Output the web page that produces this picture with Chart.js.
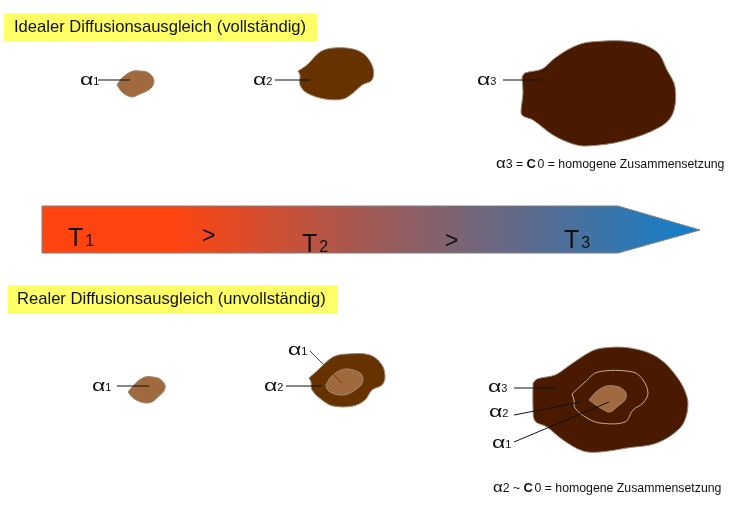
<!DOCTYPE html>
<html>
<head>
<meta charset="utf-8">
<style>
  html, body { margin: 0; background: #fff; }
  canvas { display: block; }
</style>
<script src="https://cdn.jsdelivr.net/npm/chart.js@4"></script>
</head>
<body>
<canvas id="diagram" width="734" height="515"></canvas>
<script>
// outlines, in picture units (x, y)
const boxTop = [[4,13],[317,13],[317,41],[4,41],[4,13]];
const boxBottom = [[8,285],[338,285],[338,314],[8,314],[8,285]];
const arrow = [[42,206],[618,206],[700,230],[618,253],[42,253],[42,206]];

const topA1 = [[117,85],[121,79],[127,74],[133,71],[140,71],[147,72],[152,76],[154,81],[152,87],[147,91],[140,94],[133,97],[126,95],[121,91],[117,85]];
const topA2 = [[298,71],[307,65],[320,52],[333,48],[353,49],[365,55],[373,68],[372,80],[362,85],[353,93],[343,99],[325,99],[307,93],[300,85],[300,75],[298,71]];
const topA3 = [[522,77],[525,73],[542,69],[555,58],[573,47],[590,42],[633,42],[657,52],[667,70],[675,87],[673,113],[660,127],[623,141],[587,146],[573,144],[553,135],[533,120],[523,116],[521,112],[523,93],[522,77]];

const botA1 = [[128,392],[133,386],[138,381],[145,377],[153,377],[160,379],[165,385],[164,391],[158,397],[152,402],[145,403],[138,401],[132,397],[128,392]];
const midOuter = [[309,378],[318,370],[333,357],[347,354],[370,355],[382,365],[385,377],[382,385],[372,390],[365,400],[353,406],[333,406],[322,400],[312,390],[311,382],[309,378]];
const midInner = [[326,385],[330,378],[337,372],[345,369],[353,370],[360,373],[363,378],[361,385],[355,390],[348,394],[340,395],[332,393],[327,389],[326,385]];
const bigOuter = [[533,383],[537,379],[555,375],[570,365],[590,352],[603,348],[630,348],[657,357],[677,377],[687,397],[687,413],[680,428],[657,443],[627,448],[600,452],[583,451],[563,440],[547,427],[535,421],[533,407],[533,383]];
const bigMid = [[572,394],[585,382],[598,372],[633,372],[643,380],[648,393],[643,403],[633,410],[625,422],[600,423],[587,418],[575,408],[574,400],[572,394]];
const bigInner = [[589,400],[594,394],[600,389],[607,386],[614,386],[621,388],[626,393],[625,400],[618,406],[610,412],[604,410],[596,405],[589,400]];

const leaders = [
  [[98,80],[130,80]], [[275,80],[310,80]], [[503,80],[539,80]],
  [[117,386],[149,386]], [[286,386],[322,386]], [[514,388],[555,388]],
  [[514,415],[581,402]], [[514,442],[609,402]]
];
const leaderGrey = [[310,351],[342,383]];

// text: runs of [text, kind], kind = n normal, s small, b bold
const labelTexts = [
  [['Idealer Diffusionsausgleich (vollständig)','title']],
  [['Realer Diffusionsausgleich (unvollständig)','title']],
  [['α','a'],['1','s']], [['α','a'],['2','s']], [['α','a'],['3','s']],
  [['α','c'],['3 = ','n'],['C','b'],['0 = homogene Zusammensetzung','n']],
  [['T','t'],['1','ts']], [['T','t'],['2','ts']], [['T','t'],['3','ts']],
  [['>','gt']], [['>','gt']],
  [['α','a'],['1','s']], [['α','a'],['1','s']], [['α','a'],['2','s']],
  [['α','a'],['3','s']], [['α','a'],['2','s']], [['α','a'],['1','s']],
  [['α','c'],['2 ~ ','n'],['C','b'],['0 = homogene Zusammensetzung','n']]
];
const labelX = [14,17,80,253,477,496,68,302,564,202,445,92,288,264,488,489,492,493];
const labelY = [32,304,85,85,85,168,246,252,248,243,248,391,355,391,392,417,448,492];

const fonts = {
  title: '16.6px "Liberation Sans"',
  a: '16.5px "Liberation Sans"',
  s: '11px "Liberation Sans"',
  c: '14px "Liberation Sans"',
  n: '12.3px "Liberation Sans"',
  b: 'bold 13px "Liberation Sans"',
  t: '25px "Liberation Sans"',
  ts: '16px "Liberation Sans"',
  gt: '23px "Liberation Sans"'
};
// the alpha in the picture is wider than the font's, T and C stand a bit off what follows
const stretch = { a: 1.4, c: 1.2 };
const gapAfter = { t: 2, b: 1.5 };

const toPoints = list => list.map(p => ({ x: p[0], y: p[1] }));

function shape(list, fillColor, edge, tension) {
  return {
    data: toPoints(list),
    showLine: true,
    fill: 'shape',
    backgroundColor: fillColor,
    borderColor: edge,
    borderWidth: 1,
    tension: tension,
    pointRadius: 0
  };
}

function leader(list, color) {
  return { data: toPoints(list), showLine: true, fill: false, borderColor: color, borderWidth: 1, pointRadius: 0 };
}

function arrowGradient(ctx) {
  const chart = ctx.chart;
  const x = chart.scales.x;
  if (!x || !isFinite(x.getPixelForValue(42))) return '#ff4410';
  const g = chart.ctx.createLinearGradient(x.getPixelForValue(42), 0, x.getPixelForValue(700), 0);
  g.addColorStop(0, '#ff4410');
  g.addColorStop(0.2, '#ff4410');
  g.addColorStop(0.5, '#a05a55');
  g.addColorStop(0.75, '#5a6c90');
  g.addColorStop(1, '#0f80cc');
  return g;
}

const light = '#a06a3e', mid = '#663300', dark = '#4a1a00';
const edgeSoft = '#9c8a78', edgeLight = '#c0ae98';

// listed back to front
const layers = [
  shape(boxTop, '#ffff66', 'rgba(0,0,0,0)', 0),
  shape(boxBottom, '#ffff66', 'rgba(0,0,0,0)', 0),
  shape(arrow, arrowGradient, '#7f7f80', 0),
  shape(topA1, light, edgeSoft, 0.35),
  shape(topA2, mid, edgeSoft, 0.35),
  shape(topA3, dark, edgeSoft, 0.35),
  shape(botA1, light, edgeSoft, 0.35),
  shape(midOuter, mid, edgeSoft, 0.35),
  shape(midInner, light, edgeSoft, 0.35),
  shape(bigOuter, dark, edgeSoft, 0.35),
  shape(bigMid, dark, edgeLight, 0.35),
  shape(bigInner, light, edgeSoft, 0.35),
  ...leaders.map(l => leader(l, '#111')),
  leader(leaderGrey, '#444')
];
layers.forEach((d, i) => { d.order = layers.length - i; });

const textPlugin = {
  id: 'diagramText',
  afterDatasetsDraw(chart) {
    const { ctx, scales } = chart;
    ctx.save();
    ctx.fillStyle = '#111';
    ctx.textBaseline = 'alphabetic';
    labelTexts.forEach((runs, i) => {
      let px = scales.x.getPixelForValue(labelX[i]);
      const py = scales.y.getPixelForValue(labelY[i]);
      runs.forEach(run => {
        const kind = run[1];
        const sx = stretch[kind] || 1;
        ctx.font = fonts[kind];
        ctx.save();
        ctx.translate(px, py);
        ctx.scale(sx, 1);
        ctx.fillText(run[0], 0, 0);
        ctx.restore();
        px += ctx.measureText(run[0]).width * sx + (gapAfter[kind] || 0);
      });
    });
    ctx.restore();
  }
};

new Chart(document.getElementById('diagram'), {
  type: 'scatter',
  data: { datasets: layers },
  options: {
    responsive: false,
    animation: false,
    layout: { padding: 0 },
    plugins: { legend: { display: false }, tooltip: { enabled: false } },
    scales: {
      x: { type: 'linear', display: false, min: 0, max: 734 },
      y: { type: 'linear', display: false, min: 0, max: 515, reverse: true }
    }
  },
  plugins: [textPlugin]
});
</script>
</body>
</html>
